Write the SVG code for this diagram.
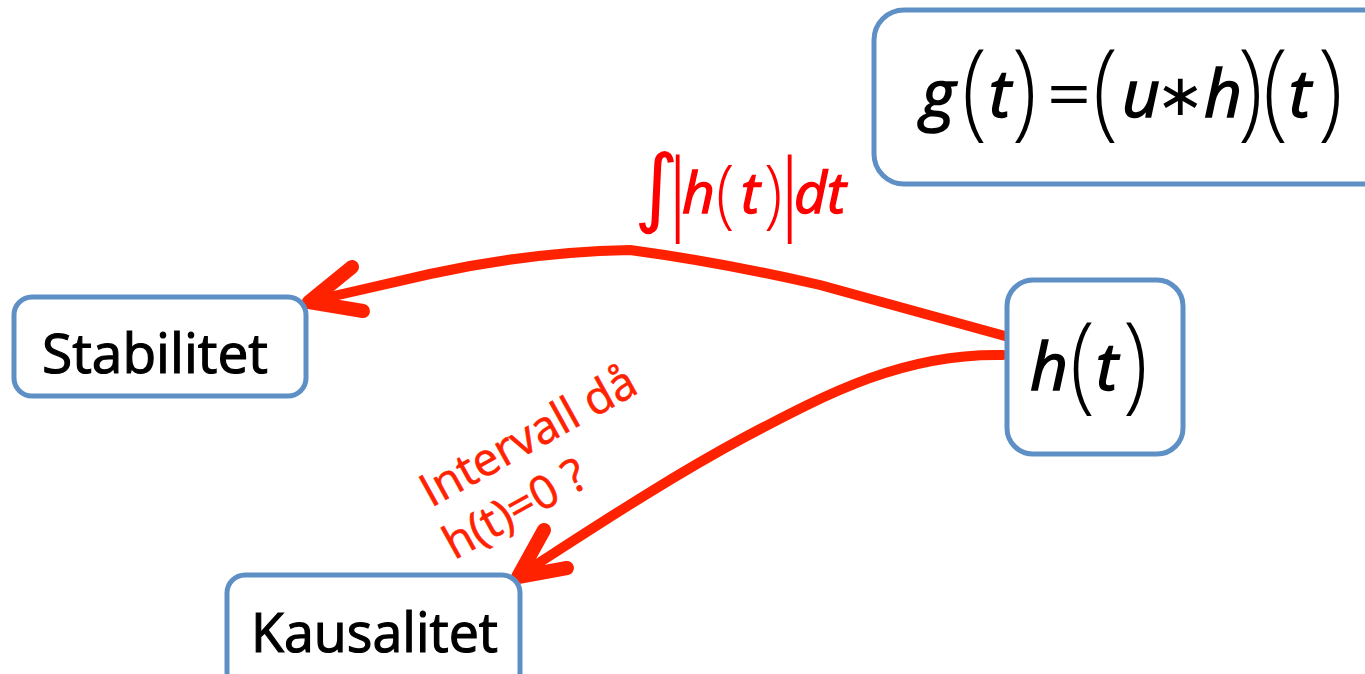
<svg xmlns="http://www.w3.org/2000/svg" width="1365" height="674" viewBox="0 0 1365 674">
<style>
.box{fill:#fff;stroke:#5F90C5;stroke-width:5}
.lbl{font-family:"Open Sans","Liberation Sans",sans-serif;font-size:55px;fill:#000;stroke:#000;stroke-width:1.2}
.mi{font-family:"Open Sans","Liberation Sans",sans-serif;font-style:italic;font-size:66px;fill:#000;stroke:#000;stroke-width:1.6}
.mo{font-family:"Open Sans","Liberation Sans",sans-serif;font-size:64px;fill:#000}
.par{font-family:"Open Sans","Liberation Sans",sans-serif;font-weight:300;font-size:107px;fill:#000}
.conn{fill:none;stroke:#FF2200;stroke-width:10;stroke-linecap:round;stroke-linejoin:round}
.head{fill:none;stroke:#FF2200;stroke-width:14;stroke-linecap:round;stroke-linejoin:round}
.rt{font-family:"Open Sans","Liberation Sans",sans-serif;font-size:46px;fill:#FF2200;stroke:#FF2200;stroke-width:0.6}
.ri{font-family:"Open Sans","Liberation Sans",sans-serif;font-style:italic;font-size:57px;fill:#FF0000;stroke:#FF0000;stroke-width:1.4}
.rp{font-family:"Open Sans","Liberation Sans",sans-serif;font-weight:300;font-size:75px;fill:#FF0000}
.rb{font-family:"Open Sans","Liberation Sans",sans-serif;font-weight:300;font-size:88px;fill:#FF0000}
</style>
<rect width="1365" height="674" fill="#fff"/>
<g id="connectors">
<path class="conn" d="M1005,336 L820,285 Q720,262 630,250 Q530,252 430,274 L312,301"/>
<path class="head" d="M352,267 L309,302 L363,311"/>
<path class="conn" d="M1003,355 C905,353 830,392 745,437 C665,480 590,530 520,575"/>
<path class="head" d="M544,530 L518,577 L567,568"/>
</g>
<g id="node-g">
<rect class="box" x="874" y="10" width="520" height="174" rx="30"/>
<text class="mi" x="921" y="117">g</text>
<text class="par" transform="translate(962,126) scale(0.85,1)">(</text>
<text class="mi" x="989" y="117">t</text>
<text class="par" transform="translate(1012,126) scale(0.85,1)">)</text>
<text class="mo" x="1047" y="117" textLength="44" lengthAdjust="spacingAndGlyphs">=</text>
<text class="par" transform="translate(1093,126) scale(0.85,1)">(</text>
<text class="mi" x="1122" y="117">u</text>
<text x="1156" y="115" style="font-family:'DejaVu Sans',sans-serif;font-size:58px" fill="#000">∗</text>
<text class="mi" x="1204" y="117">h</text>
<text class="par" transform="translate(1238,126) scale(0.85,1)">)</text>
<text class="par" transform="translate(1263,126) scale(0.85,1)">(</text>
<text class="mi" x="1289" y="117">t</text>
<text class="par" transform="translate(1318,126) scale(0.85,1)">)</text>
</g>
<g id="node-h">
<rect class="box" x="1007" y="280" width="176" height="174" rx="26"/>
<text class="mi" x="1030" y="390">h</text>
<text class="par" transform="translate(1070,399) scale(0.85,1)">(</text>
<text class="mi" x="1096" y="390">t</text>
<text class="par" transform="translate(1123,399) scale(0.85,1)">)</text>
</g>
<g id="node-stab">
<rect class="box" x="14" y="297" width="292" height="99" rx="18"/>
<text class="lbl" x="42" y="373" textLength="226" lengthAdjust="spacingAndGlyphs">Stabilitet</text>
</g>
<g id="node-kaus">
<rect class="box" x="227" y="575" width="293" height="115" rx="18"/>
<text class="lbl" x="251" y="652" textLength="247" lengthAdjust="spacingAndGlyphs">Kausalitet</text>
</g>
<g id="label-integral">
<text x="634" y="216" style="font-family:'DejaVu Sans',sans-serif;font-size:86px" fill="#FF0000">∫</text>
<text class="rb" x="654" y="222">|</text>
<text class="ri" x="682" y="213">h</text>
<text class="rp" transform="translate(716,219) scale(0.9,1)">(</text>
<text class="ri" x="741" y="213">t</text>
<text class="rp" transform="translate(764,219) scale(0.9,1)">)</text>
<text class="rb" x="766" y="222">|</text>
<text class="ri" x="794" y="213">dt</text>
</g>
<g id="label-kausal" transform="translate(431,508) rotate(-29)">
<text class="rt" x="0" y="0">Intervall då</text>
<text class="rt" x="-5" y="57">h(t)=0 ?</text>
</g>
</svg>
